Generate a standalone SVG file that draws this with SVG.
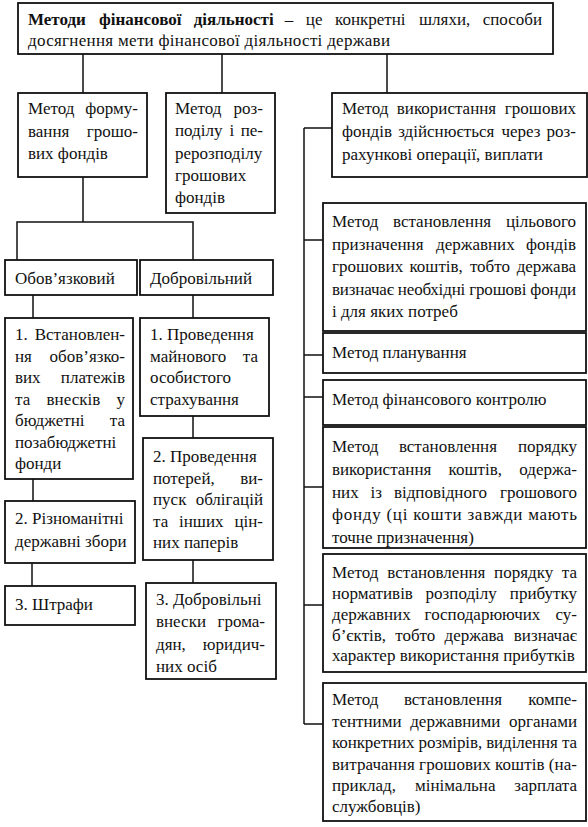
<svg xmlns="http://www.w3.org/2000/svg" width="588" height="827" viewBox="0 0 588 827">
<style>
rect.b{fill:#fff;stroke:#111;stroke-width:1.8}
#connectors path{fill:none;stroke:#111;stroke-width:1.5}
text{font-family:"Liberation Serif","Times New Roman",serif;font-size:17px;fill:#111}
.e{text-anchor:end}
.bd{font-weight:bold}
</style>
<rect width="588" height="827" fill="#fff"/>
<g id="connectors">
<path d="M83 54V93M222 54V93M387 54V93"/>
<path d="M83 177V222M17 260V222H193V260"/>
<path d="M33 295V318M193 295V318M33 479V501M32 563V586M193 416V438M193 560V583"/>
<path d="M304 128V724M304 128H332M304 240H323M304 355H323M304 397H323M304 487H323M304 605H323M304 724H323"/>
</g>
<g id="n-title">
<rect class="b" x="18" y="3" width="535" height="51"/>
<text y="25"><tspan class="bd" x="28">Методи</tspan><tspan class="bd" x="99">фінансової</tspan><tspan class="bd" x="193.7">діяльності</tspan><tspan x="284.8">–</tspan><tspan x="305.8">це</tspan><tspan x="335">конкретні</tspan><tspan x="419">шляхи,</tspan></text>
<text class="e" x="542" y="25">способи</text>
<text x="28" y="46" textLength="362" lengthAdjust="spacing">досягнення мети фінансової діяльності держави</text>
</g>
<g id="n-form">
<rect class="b" x="18" y="93" width="129" height="84"/>
<text x="28" y="114">Метод</text><text class="e" x="138" y="114">форму-</text>
<text x="28" y="136.5">вання</text><text class="e" x="138" y="136.5">грошо-</text>
<text x="28" y="159">вих фондів</text>
</g>
<g id="n-rozp">
<rect class="b" x="166" y="93" width="109" height="120"/>
<text x="175" y="114">Метод</text><text class="e" x="263" y="114">роз-</text>
<text y="136"><tspan x="175">поділу</tspan><tspan x="229.5">і</tspan></text><text class="e" x="263" y="136">пе-</text>
<text x="175" y="158.5">рерозподілу</text>
<text x="175" y="181">грошових</text>
<text x="175" y="203">фондів</text>
</g>
<g id="n-oblig">
<rect class="b" x="5" y="260" width="132" height="35"/>
<text x="15" y="284">Обов’язковий</text>
</g>
<g id="n-dobr">
<rect class="b" x="140" y="260" width="133" height="35"/>
<text x="150" y="284">Добровільний</text>
</g>
<g id="n-o1">
<rect class="b" x="5" y="318" width="128" height="161"/>
<text x="15" y="340">1.</text><text class="e" x="125" y="340">Встановлен-</text>
<text x="15" y="361.5">ня</text><text class="e" x="125" y="361.5">обов’язко-</text>
<text x="15" y="383">вих</text><text class="e" x="125" y="383">платежів</text>
<text y="404.5"><tspan x="15">та</tspan><tspan x="46.6">внесків</tspan></text><text class="e" x="125" y="404.5">у</text>
<text x="15" y="426">бюджетні</text><text class="e" x="125" y="426">та</text>
<text x="15" y="447.5">позабюджетні</text>
<text x="15" y="469">фонди</text>
</g>
<g id="n-o2">
<rect class="b" x="5" y="501" width="130" height="62"/>
<text x="15" y="524">2. Різноманітні</text>
<text x="15" y="547">державні збори</text>
</g>
<g id="n-o3">
<rect class="b" x="5" y="586" width="130" height="39"/>
<text x="15" y="610">3. Штрафи</text>
</g>
<g id="n-d1">
<rect class="b" x="140" y="318" width="129" height="98"/>
<text x="150" y="340">1. Проведення</text>
<text x="150" y="361.5">майнового</text><text class="e" x="258" y="361.5">та</text>
<text x="150" y="383">особистого</text>
<text x="150" y="404.5">страхування</text>
</g>
<g id="n-d2">
<rect class="b" x="143" y="438" width="130" height="122"/>
<text x="153" y="462">2. Проведення</text>
<text x="153" y="483.5">потерей,</text><text class="e" x="263" y="483.5">ви-</text>
<text x="153" y="505">пуск</text><text class="e" x="263" y="505">облігацій</text>
<text y="526.5"><tspan x="153">та</tspan><tspan x="179">інших</tspan></text><text class="e" x="263" y="526.5">цін-</text>
<text x="153" y="548">них паперів</text>
</g>
<g id="n-d3">
<rect class="b" x="146" y="583" width="130" height="96"/>
<text x="156" y="605">3. Добровільні</text>
<text x="156" y="627">внески</text><text class="e" x="265" y="627">грома-</text>
<text x="156" y="650">дян,</text><text class="e" x="265" y="650">юридич-</text>
<text x="156" y="672">них осіб</text>
</g>
<g id="n-vyk">
<rect class="b" x="332" y="93" width="255" height="84"/>
<text y="114"><tspan x="342">Метод</tspan><tspan x="396.8">використання</tspan></text><text class="e" x="576" y="114">грошових</text>
<text y="137"><tspan x="342">фондів</tspan><tspan x="398.2">здійснюється</tspan><tspan x="501.5">через</tspan></text><text class="e" x="576" y="137">роз-</text>
<text x="342" y="160">рахункові операції, виплати</text>
</g>
<g id="n-cil">
<rect class="b" x="323" y="203" width="263" height="128"/>
<text y="227"><tspan x="332">Метод</tspan><tspan x="393">встановлення</tspan></text><text class="e" x="576" y="227">цільового</text>
<text y="249.5"><tspan x="332">призначення</tspan><tspan x="436">державних</tspan></text><text class="e" x="576" y="249.5">фондів</text>
<text y="272"><tspan x="332">грошових</tspan><tspan x="409.4">коштів,</tspan><tspan x="469.9">тобто</tspan></text><text class="e" x="576" y="272">держава</text>
<text x="332" y="294.5" textLength="244" lengthAdjust="spacing">визначає необхідні грошові фонди</text>
<text x="332" y="317">і для яких потреб</text>
</g>
<g id="n-plan">
<rect class="b" x="323" y="333" width="263" height="40"/>
<text x="332" y="358">Метод планування</text>
</g>
<g id="n-kontr">
<rect class="b" x="323" y="380" width="263" height="45"/>
<text x="332" y="405">Метод фінансового контролю</text>
</g>
<g id="n-por">
<rect class="b" x="323" y="427" width="263" height="121"/>
<text y="452"><tspan x="332">Метод</tspan><tspan x="398.9">встановлення</tspan></text><text class="e" x="577" y="452">порядку</text>
<text y="475"><tspan x="332">використання</tspan><tspan x="448.5">коштів,</tspan></text><text class="e" x="577" y="475">одержа-</text>
<text y="498"><tspan x="332">них</tspan><tspan x="370.6">із</tspan><tspan x="393.9">відповідного</tspan></text><text class="e" x="577" y="498">грошового</text>
<text x="332" y="520" textLength="245" lengthAdjust="spacing">фонду (ці кошти завжди мають</text>
<text x="332" y="543">точне призначення)</text>
</g>
<g id="n-norm">
<rect class="b" x="323" y="554" width="263" height="118"/>
<text y="578"><tspan x="332">Метод</tspan><tspan x="387.3">встановлення</tspan><tspan x="494.1">порядку</tspan></text><text class="e" x="577" y="578">та</text>
<text y="599"><tspan x="332">нормативів</tspan><tspan x="425.6">розподілу</tspan></text><text class="e" x="577" y="599">прибутку</text>
<text y="620"><tspan x="332">державних</tspan><tspan x="424.6">господарюючих</tspan></text><text class="e" x="577" y="620">су-</text>
<text y="640.5"><tspan x="332">б’єктів,</tspan><tspan x="395.2">тобто</tspan><tspan x="444.5">держава</tspan></text><text class="e" x="577" y="640.5">визначає</text>
<text x="332" y="661">характер використання прибутків</text>
</g>
<g id="n-komp">
<rect class="b" x="323" y="683" width="263" height="138"/>
<text y="705"><tspan x="332">Метод</tspan><tspan x="403.9">встановлення</tspan></text><text class="e" x="577" y="705">компе-</text>
<text y="726.5"><tspan x="332">тентними</tspan><tspan x="410.2">державними</tspan></text><text class="e" x="577" y="726.5">органами</text>
<text x="332" y="748" textLength="245" lengthAdjust="spacing">конкретних розмірів, виділення та</text>
<text x="332" y="769.5" textLength="245" lengthAdjust="spacing">витрачання грошових коштів (на-</text>
<text y="791"><tspan x="332">приклад,</tspan><tspan x="415">мінімальна</tspan></text><text class="e" x="577" y="791">зарплата</text>
<text x="332" y="812">службовців)</text>
</g>
</svg>
